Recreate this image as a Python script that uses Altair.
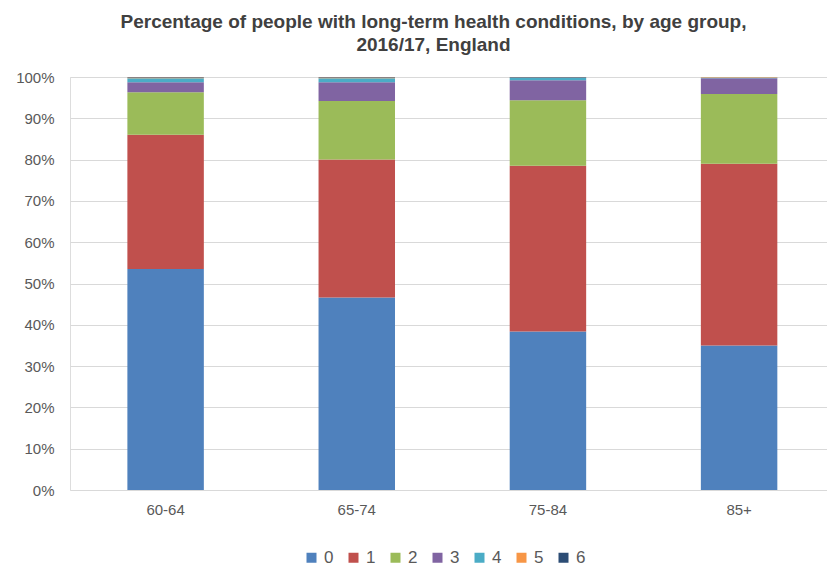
import altair as alt
import pandas as pd

groups = ["60-64", "65-74", "75-84", "85+"]
conditions = ["0", "1", "2", "3", "4", "5", "6"]
colors = ["#4F81BD", "#C0504D", "#9BBB59", "#8064A2", "#4BACC6", "#F79646", "#2C4D75"]

# percentage of people per number of long-term conditions, one list per count
c0 = [53.5, 46.6, 38.4, 35.0]
c1 = [32.5, 33.4, 40.1, 44.0]
c2 = [10.3, 14.2, 15.9, 16.9]
c3 = [2.4, 4.5, 4.8, 3.8]
c4 = [1.0, 1.0, 0.6, 0.2]
c5 = [0.2, 0.2, 0.1, 0.1]
c6 = [0.1, 0.1, 0.1, 0.0]

series = [c0, c1, c2, c3, c4, c5, c6]
rows = []
for k, (cond, vals) in enumerate(zip(conditions, series)):
    for g, v in zip(groups, vals):
        rows.append({"group": g, "cond": cond, "order": k, "pct": v / 100.0})
df = pd.DataFrame(rows)

FONT = "Liberation Sans"
GREY = "#595959"

chart = alt.Chart(df).mark_bar().encode(
    x=alt.X("group:N", sort=groups, title=None,
            scale=alt.Scale(paddingInner=0.6, paddingOuter=0.28, align=0.536),
            axis=alt.Axis(labelAngle=0, labelFontSize=15, labelColor=GREY, labelFont=FONT,
                          ticks=False, domain=False, labelPadding=12)),
    y=alt.Y("pct:Q", stack="zero", title=None,
            scale=alt.Scale(domain=[0, 1], nice=False),
            axis=alt.Axis(format="%", values=[i / 10 for i in range(11)], labelFontSize=15,
                          labelColor=GREY, labelFont=FONT, ticks=False, domain=False,
                          labelPadding=16, gridColor="#D9D9D9", gridWidth=1)),
    color=alt.Color("cond:N", sort=conditions,
                    scale=alt.Scale(domain=conditions, range=colors),
                    legend=alt.Legend(title=None, orient="none", direction="horizontal",
                                      legendX=233, legendY=472, symbolType="square",
                                      symbolSize=100, symbolStrokeWidth=0,
                                      labelFontSize=17, labelColor=GREY, labelFont=FONT,
                                      columnPadding=11, labelOffset=4)),
    order=alt.Order("order:Q", sort="ascending"),
).properties(
    width=757,
    height=413,
    title=alt.TitleParams(
        text=["Percentage of people with long-term health conditions, by age group,",
              "2016/17, England"],
        font=FONT, fontSize=19, fontWeight="bold", color="#404040",
        anchor="middle", dx=-15, offset=15, lineHeight=23,
    ),
    autosize=alt.AutoSizeParams(type="none"),
    padding={"left": 70, "top": 77, "right": 0, "bottom": 82},
).configure_view(stroke=None).configure(background="white")

chart.save("out.html", embed_options={"renderer": "svg", "actions": False})
